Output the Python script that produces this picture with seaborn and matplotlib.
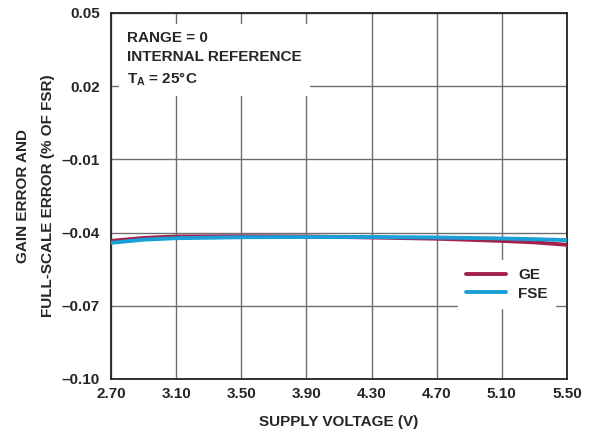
import matplotlib
matplotlib.use("Agg")
import matplotlib.pyplot as plt
from matplotlib.lines import Line2D
import seaborn as sns
import pandas as pd

# Supply voltage sweep (V)
supply_v = [2.70, 2.90, 3.10, 3.50, 3.90, 4.30, 4.70, 5.10, 5.30, 5.50]
# Gain error (% of FSR)
gain_err = [-0.0434, -0.0422, -0.0416, -0.0415, -0.0416, -0.0420, -0.0425, -0.0434, -0.0440, -0.0450]
# Full-scale error (% of FSR)
fs_err = [-0.0442, -0.0429, -0.0423, -0.0419, -0.0418, -0.0418, -0.0420, -0.0424, -0.0427, -0.0431]

x_ticks = [2.70, 3.10, 3.50, 3.90, 4.30, 4.70, 5.10, 5.50]
y_ticks = [0.05, 0.02, -0.01, -0.04, -0.07, -0.10]

df = pd.concat([
    pd.DataFrame({"v": supply_v, "err": gain_err, "series": "GE"}),
    pd.DataFrame({"v": supply_v, "err": fs_err, "series": "FSE"}),
])

sns.set_theme(style="white")
plt.rcParams["font.family"] = ["Liberation Sans", "DejaVu Sans"]
plt.rcParams["font.weight"] = "bold"

fig = plt.figure(figsize=(5.94, 4.33), dpi=100)
ax = fig.add_axes([111 / 594, 1 - 379 / 433, 456 / 594, 366 / 433])

sns.lineplot(data=df, x="v", y="err", hue="series",
             palette={"GE": "#A3204B", "FSE": "#1A9FD6"},
             linewidth=2.8, ax=ax, legend=False, zorder=3)

ax.set_xlim(2.70, 5.50)
ax.set_ylim(-0.10, 0.05)
ax.set_xticks(x_ticks)
ax.set_yticks(y_ticks)
ax.set_xticklabels([f"{t:.2f}" for t in x_ticks], fontsize=11, fontweight="bold")
ax.set_yticklabels([f"{t:.2f}".replace("-", "\u2013") for t in y_ticks], fontsize=11, fontweight="bold")
ax.tick_params(axis="x", length=0, pad=6)
ax.tick_params(axis="y", length=0, pad=8)

ax.grid(True, color="#6e6e6e", linewidth=1.0, zorder=1)
for s in ax.spines.values():
    s.set_color("#222222")
    s.set_linewidth(1.3)

ax.set_xlabel("SUPPLY VOLTAGE (V)", fontsize=11, fontweight="bold", labelpad=10)
ax.set_ylabel("GAIN ERROR AND\nFULL-SCALE ERROR (% OF FSR)", fontsize=11,
              fontweight="bold", labelpad=5, linespacing=2.0)

# Test-condition note on a white panel that hides the grid behind it
ax.text(0.036, 0.952,
        "RANGE = 0\nINTERNAL REFERENCE\n$\\mathregular{T_A}$ = 25\u00b0C",
        transform=ax.transAxes, ha="left", va="top", fontsize=11,
        fontweight="bold", linespacing=1.5, zorder=4,
        bbox=dict(facecolor="white", edgecolor="none", pad=6))

handles = [Line2D([], [], color="#A3204B", lw=2.8),
           Line2D([], [], color="#1A9FD6", lw=2.8)]
leg = ax.legend(handles, ["GE", "FSE"], loc="upper left",
                bbox_to_anchor=(0.745, 0.345), frameon=True, fancybox=False,
                framealpha=1, edgecolor="white", handlelength=2.6,
                handletextpad=0.8, labelspacing=0.3, borderpad=0.5,
                prop=dict(weight="bold", size=11))
leg.set_zorder(5)

fig.savefig("out.png", dpi=100)
